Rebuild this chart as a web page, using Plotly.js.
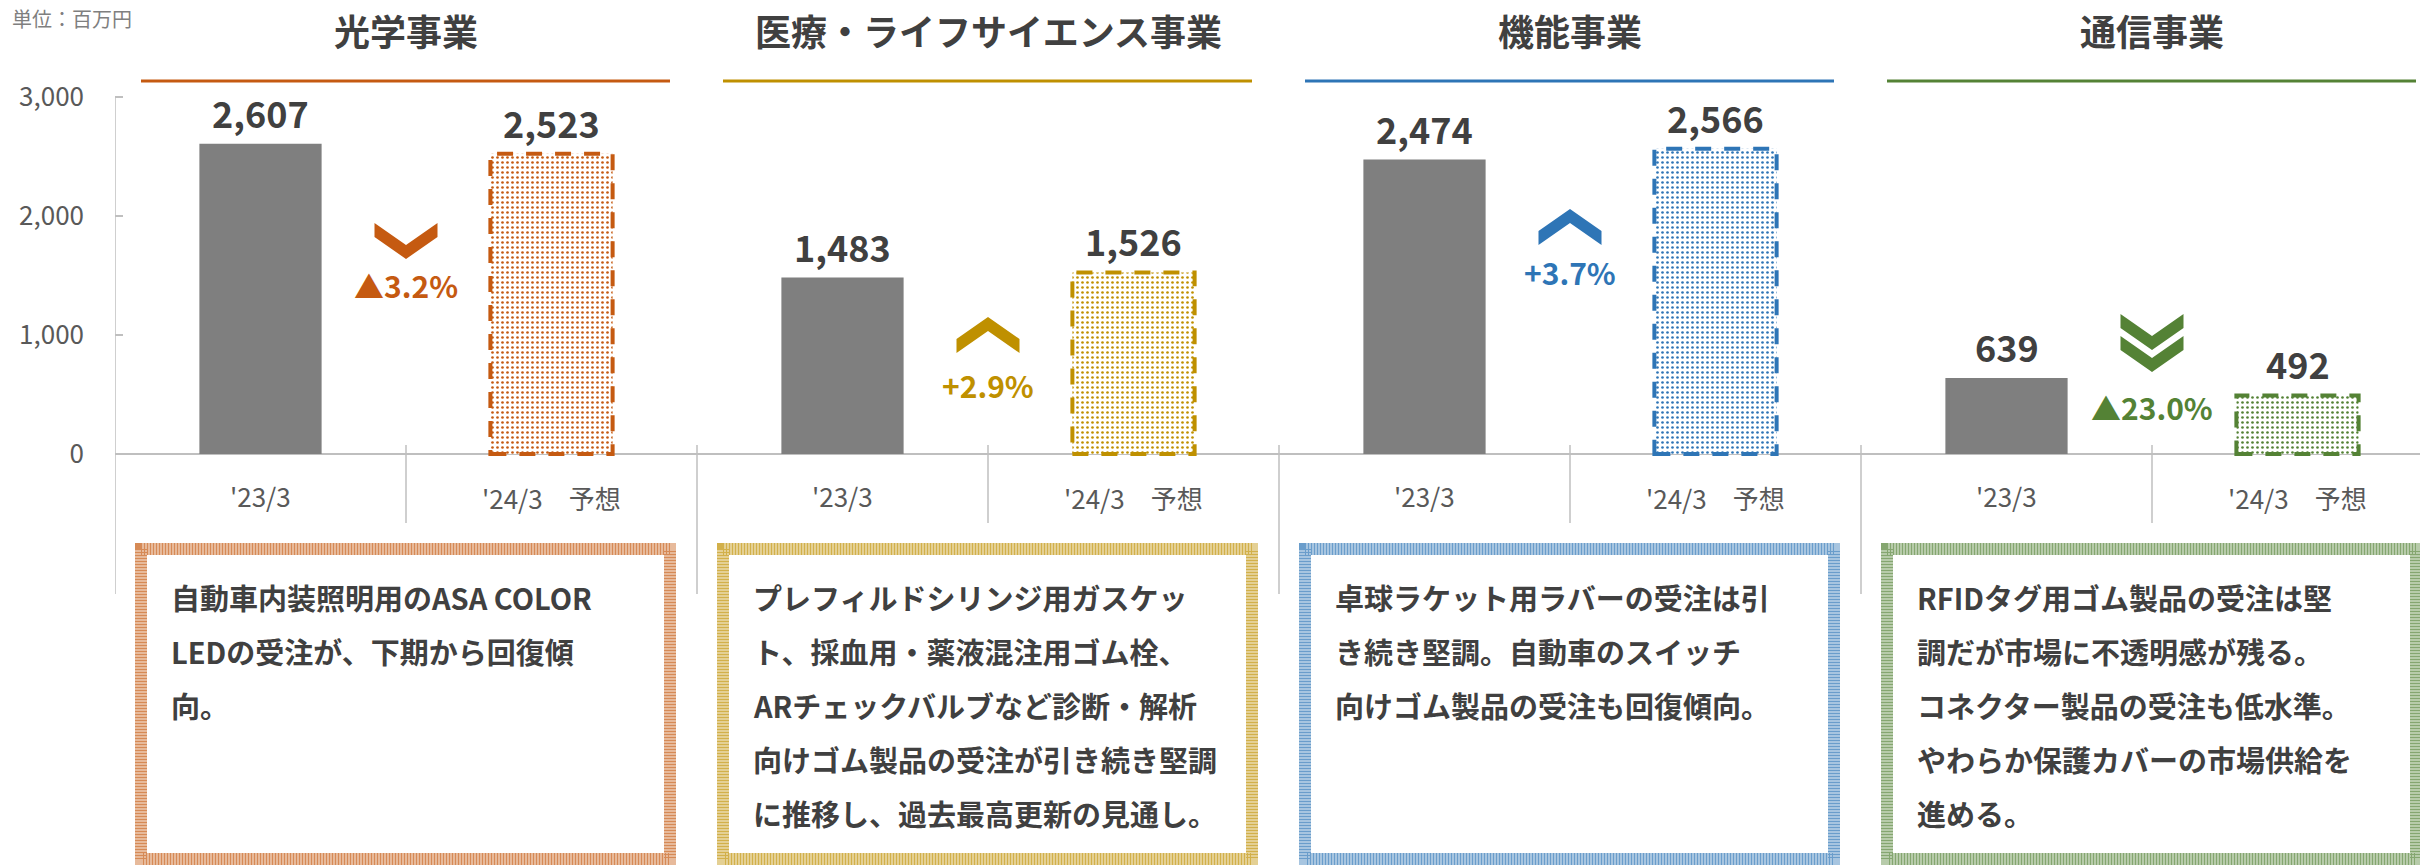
<!DOCTYPE html>
<html>
<head>
<meta charset="utf-8">
<script src="https://cdn.plot.ly/plotly-3.0.1.min.js"></script>
<style>
  html, body { margin: 0; padding: 0; background: #fff; }
  #chart { width: 2420px; height: 865px; }
</style>
</head>
<body>
<div id="chart"></div>
<script>
// data
var segments = ['光学事業', '医療・ライフサイエンス事業', '機能事業', '通信事業'];
var segColors = ['#C55A11', '#BF9000', '#2E75B6', '#548235'];
var periods = ["'23/3", "'24/3　予想"];
var sales2303 = [2607, 1483, 2474, 639];
var sales2403 = [2523, 1526, 2566, 492];
var changeText = ['▲3.2%', '+2.9%', '+3.7%', '▲23.0%'];
var changeDir = ['down', 'up', 'up', 'down2'];
var notes = [
  ['自動車内装照明用のASA COLOR', 'LEDの受注が、下期から回復傾', '向。'],
  ['プレフィルドシリンジ用ガスケッ', 'ト、採血用・薬液混注用ゴム栓、', 'ARチェックバルブなど診断・解析', '向けゴム製品の受注が引き続き堅調', 'に推移し、過去最高更新の見通し。'],
  ['卓球ラケット用ラバーの受注は引', 'き続き堅調。自動車のスイッチ', '向けゴム製品の受注も回復傾向。'],
  ['RFIDタグ用ゴム製品の受注は堅', '調だが市場に不透明感が残る。', 'コネクター製品の受注も低水準。', 'やわらか保護カバーの市場供給を', '進める。']
];

// page geometry (pixels)
var W = 2420, H = 865, LEFT = 115, CAT = 291, ZERO = 454, PX_PER_K = 119;
var FONT = '"Noto Sans CJK JP", "Noto Sans", sans-serif';
var TXT = '#404040', GRAY = '#595959', AXIS = '#BFBFBF';
var chevTop = [223, 317, 209, 314];
var changeY = [285, 385, 272, 407];

function px2x(px) { return (px - LEFT) / CAT - 0.5; }
function py2y(py) { return (ZERO - py) * 1000 / PX_PER_K; }
function tint(hex, a) {
  var n = parseInt(hex.slice(1), 16);
  return 'rgba(' + (n >> 16) + ',' + ((n >> 8) & 255) + ',' + (n & 255) + ',' + a + ')';
}

var xActual = [], xPlan = [];
segments.forEach(function(s, k) { xActual.push(2 * k); xPlan.push(2 * k + 1); });

var barActual = {
  type: 'bar', x: xActual, y: sales2303, width: 0.42,
  marker: {color: '#7F7F7F', line: {width: 0}},
  hoverinfo: 'skip', showlegend: false
};
var barPlan = {
  type: 'bar', x: xPlan, y: sales2403, width: 0.42,
  marker: {
    color: '#FFFFFF', line: {width: 0},
    pattern: {shape: '.', fgcolor: segColors, bgcolor: '#FFFFFF', size: 5, solidity: 0.22, fillmode: 'replace'}
  },
  hoverinfo: 'skip', showlegend: false
};

var shapes = [];
var annotations = [];

function chevron(cx, top, w, h, s, dir, color) {
  var p;
  if (dir === 'up') {
    p = [[cx - w/2, top + h], [cx, top + s], [cx + w/2, top + h], [cx + w/2, top + h - s], [cx, top], [cx - w/2, top + h - s]];
  } else {
    p = [[cx - w/2, top], [cx, top + h - s], [cx + w/2, top], [cx + w/2, top + s], [cx, top + h], [cx - w/2, top + s]];
  }
  var d = p.map(function(pt, i) { return (i ? 'L' : 'M') + px2x(pt[0]) + ',' + py2y(pt[1]); }).join(' ') + ' Z';
  shapes.push({type: 'path', path: d, fillcolor: color, line: {width: 0}, layer: 'above'});
}

// y axis line + category dividers
shapes.push({type: 'line', x0: -0.5, x1: -0.5, y0: py2y(97), y1: py2y(594), line: {color: AXIS, width: 1.5}});
for (var j = 1; j < 8; j++) {
  shapes.push({type: 'line', x0: j - 0.5, x1: j - 0.5, y0: py2y(445), y1: py2y(j % 2 === 0 ? 594 : 523),
    line: {color: AXIS, width: 1.5}});
}

segments.forEach(function(name, k) {
  var col = segColors[k];
  var secL = LEFT + 2 * k * CAT, secR = secL + 2 * CAT, cx = secL + CAT;

  // title + colored rule
  annotations.push({x: 2 * k + 0.5, y: py2y(30), text: name, showarrow: false, yanchor: 'middle',
    font: {family: FONT, size: 36, color: TXT, weight: 'bold'}});
  shapes.push({type: 'line', x0: px2x(secL + 26), x1: px2x(secR - 27), y0: py2y(81), y1: py2y(81),
    line: {color: col, width: 3}});

  // dashed outline of forecast bar
  shapes.push({type: 'rect', x0: xPlan[k] - 0.21, x1: xPlan[k] + 0.21, y0: 0, y1: sales2403[k],
    line: {color: col, width: 4, dash: '16px,13px'}, layer: 'above'});

  // value labels
  [[xActual[k], sales2303[k]], [xPlan[k], sales2403[k]]].forEach(function(v) {
    annotations.push({x: v[0], y: v[1], text: v[1].toLocaleString('en-US'), showarrow: false,
      yanchor: 'bottom', yshift: 4, font: {family: FONT, size: 36, color: TXT, weight: 'bold'}});
  });

  // period labels
  annotations.push({x: xActual[k], y: py2y(495), text: periods[0], showarrow: false, yanchor: 'middle',
    font: {family: FONT, size: 26, color: GRAY}});
  annotations.push({x: xPlan[k], y: py2y(497), text: periods[1], showarrow: false, yanchor: 'middle',
    font: {family: FONT, size: 26, color: GRAY}});

  // change arrow + rate
  if (changeDir[k] === 'down2') {
    chevron(cx, chevTop[k], 63, 36, 14, 'down', col);
    chevron(cx, chevTop[k] + 22, 63, 36, 14, 'down', col);
  } else {
    chevron(cx, chevTop[k], 63, 36, 14, changeDir[k], col);
  }
  annotations.push({x: 2 * k + 0.5, y: py2y(changeY[k]), text: changeText[k], showarrow: false, yanchor: 'middle',
    font: {family: FONT, size: 30, color: col, weight: 'bold'}});

  // comment box with a light dotted-looking frame
  var bL = secL + 20, bR = secR - 21;
  shapes.push({type: 'rect', x0: px2x(bL + 6), x1: px2x(bR - 6), y0: py2y(549), y1: py2y(859),
    line: {color: tint(col, 0.42), width: 12}, fillcolor: 'rgba(0,0,0,0)'});
  shapes.push({type: 'rect', x0: px2x(bL + 6), x1: px2x(bR - 6), y0: py2y(549), y1: py2y(859),
    line: {color: tint(col, 0.5), width: 12, dash: '1px,2px'}, fillcolor: 'rgba(0,0,0,0)'});
  notes[k].forEach(function(line, l) {
    annotations.push({x: px2x(bL + 34), y: py2y(597 + 54 * l), text: line, showarrow: false,
      xanchor: 'left', yanchor: 'middle', font: {family: FONT, size: 29, color: TXT, weight: 'bold'}});
  });
});

annotations.push({xref: 'paper', x: (10 - LEFT) / (W - LEFT), y: py2y(2), text: '単位：百万円', showarrow: false,
  xanchor: 'left', yanchor: 'top', font: {family: FONT, size: 20, color: '#7F7F7F'}});

var layout = {
  width: W, height: H,
  margin: {l: LEFT, r: 0, t: 0, b: 0},
  paper_bgcolor: '#FFFFFF', plot_bgcolor: '#FFFFFF',
  barmode: 'overlay',
  xaxis: {type: 'linear', range: [-0.5, px2x(W)], showticklabels: false, ticks: '', showgrid: false,
    zeroline: false, showline: false},
  yaxis: {range: [py2y(H), py2y(0)], tickvals: [0, 1000, 2000, 3000], tickformat: ',d',
    ticks: 'inside', ticklen: 8, tickcolor: AXIS, tickwidth: 1.5, ticklabelstandoff: 30,
    tickfont: {family: FONT, size: 26, color: GRAY}, showgrid: false,
    zeroline: true, zerolinecolor: AXIS, zerolinewidth: 1.5, showline: false},
  shapes: shapes,
  annotations: annotations,
  font: {family: FONT}
};

Plotly.newPlot('chart', [barActual, barPlan], layout, {staticPlot: true, displayModeBar: false});
</script>
</body>
</html>
